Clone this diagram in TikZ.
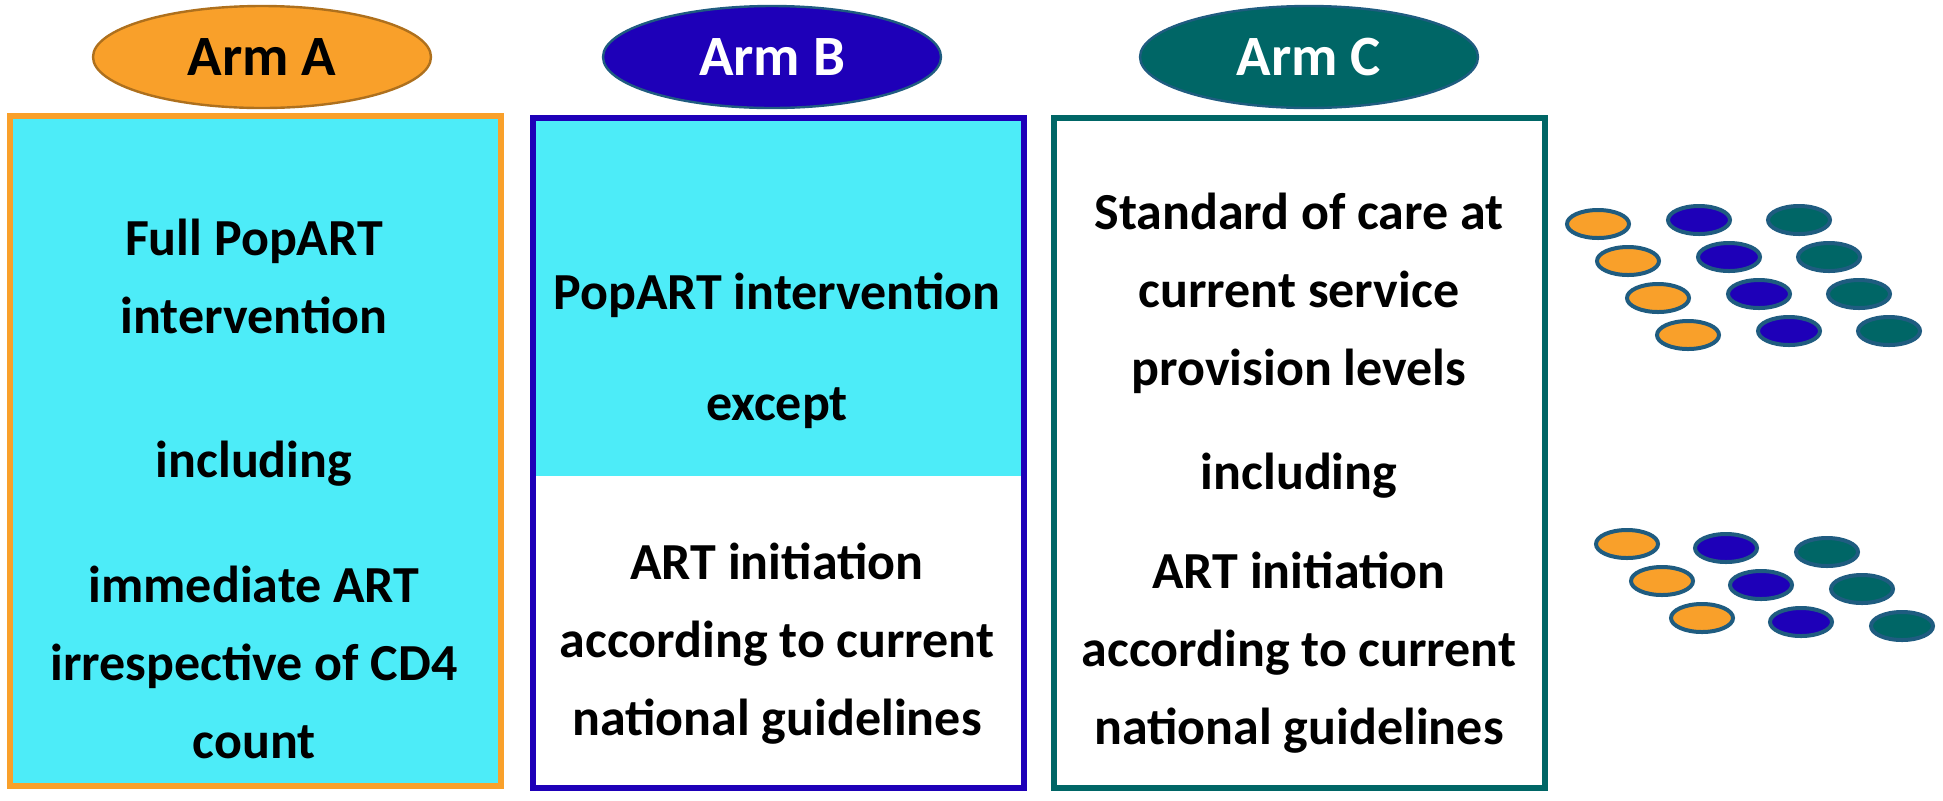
\documentclass[tikz,border=0pt]{standalone}
\usepackage{fontspec}
\setmainfont{Carlito}
\usepackage{xcolor}
\usetikzlibrary{positioning, shapes.geometric}
\definecolor{armorange}{HTML}{F9A02A}
\definecolor{armblue}{HTML}{1E00B8}
\definecolor{armteal}{HTML}{006666}
\definecolor{boxcyan}{HTML}{4DECF8}
\definecolor{dotedge}{HTML}{1F5C80}
\tikzset{
  armbox/.style={draw=#1, line width=3pt, minimum width=245.5pt, minimum height=335pt, inner sep=0pt},
  armlabel/.style={ellipse, draw=#1, line width=1.2pt, minimum width=169pt, minimum height=51pt, inner sep=0pt, font=\fontsize{28.5}{34}\selectfont\bfseries},
  armtext/.style={align=center, font=\fontsize{26}{39}\selectfont\bfseries},
  dot/.style={ellipse, draw=dotedge, line width=2pt, fill=#1, minimum width=31pt, minimum height=14pt, inner sep=0pt}
}
\begin{document}
\begin{tikzpicture}[x=0.5pt, y=-0.5pt]
    \useasboundingbox (0,0) rectangle (1943,800);

    % Arm boxes
    \fill[boxcyan] (532,115) rectangle (1025,476);
    \node[armbox=armorange, fill=boxcyan] (boxA) at (255.5,450.5) {};
    \node[armbox=armblue] (boxB) at (778.5,452.5) {};
    \node[armbox=armteal] (boxC) at (1299,452.5) {};

    % Arm labels
    \node[armlabel=armorange!70!black, fill=armorange] (armA) at (262,57) {Arm A};
    \node[armlabel=dotedge, fill=armblue, text=white] (armB) at (772,57) {Arm B};
    \node[armlabel=dotedge, fill=armteal, text=white] (armC) at (1309,57) {Arm C};

    % Arm A text
    \node[armtext] (fullA) at (254,276) {Full PopART\\intervention};
    \node[armtext] (inclA) at (254,464) {including};
    \node[armtext] (artA) at (254,662) {immediate ART\\irrespective of CD4\\count};

    % Arm B text
    \node[armtext] (popB) at (777,295) {PopART intervention};
    \node[armtext] (exceptB) at (777,408) {except};
    \node[armtext] (artB) at (777,644) {ART initiation\\according to current\\national guidelines};

    % Arm C text
    \node[armtext] (socC) at (1299,293) {Standard of care at\\current service\\provision levels};
    \node[armtext] (inclC) at (1299,476) {including};
    \node[armtext] (artC) at (1299,653) {ART initiation\\according to current\\national guidelines};

    % Dots, upper group
    \foreach \r in {0,...,3} {
        \node[dot=armorange] (upA\r) at (1598+30*\r, 224+37*\r) {};
        \node[dot=armblue] (upB\r) at (1699+30*\r, 220+37*\r) {};
        \node[dot=armteal] (upC\r) at (1799+30*\r, 220+37*\r) {};
    }
    % Dots, lower group
    \foreach \r/\dx in {0/0,1/35,2/75} {
        \node[dot=armorange] (loA\r) at (1627+\dx, 544+37*\r) {};
        \node[dot=armblue] (loB\r) at (1726+\dx, 548+37*\r) {};
        \node[dot=armteal] (loC\r) at (1827+\dx, 552+37*\r) {};
    }
\end{tikzpicture}
\end{document}
